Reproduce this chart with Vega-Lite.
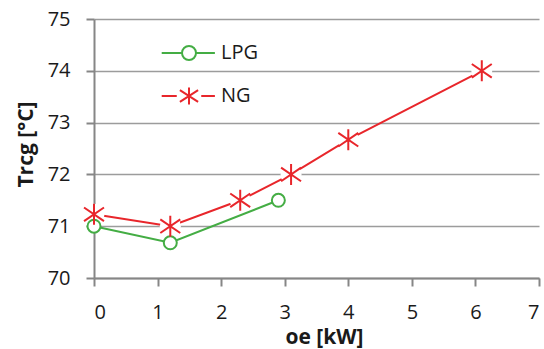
{
  "$schema": "https://vega.github.io/schema/vega-lite/v6.json",
  "width": 445,
  "height": 259,
  "autosize": {"type": "none"},
  "padding": {"left": 94, "top": 19, "right": 5, "bottom": 71},
  "background": "white",
  "config": {
    "font": "Open Sans",
    "view": {"stroke": null},
    "axis": {
      "domainColor": "#868686",
      "domainWidth": 2,
      "tickColor": "#868686",
      "tickWidth": 2,
      "tickSize": 8,
      "labelFont": "Open Sans",
      "labelFontSize": 20,
      "labelColor": "#1a1a1a",
      "titleFont": "Open Sans",
      "titleFontSize": 21,
      "titleFontWeight": "bold",
      "titleColor": "#1a1a1a",
      "gridColor": "#9c9c9c",
      "gridWidth": 1.5
    }
  },
  "data": {
    "values": [
      {"fuel": "LPG", "oe": 0, "trcg": 71.0},
      {"fuel": "LPG", "oe": 1.2, "trcg": 70.68},
      {"fuel": "LPG", "oe": 2.9, "trcg": 71.5},
      {"fuel": "NG", "oe": 0, "trcg": 71.23},
      {"fuel": "NG", "oe": 1.2, "trcg": 71.0},
      {"fuel": "NG", "oe": 2.3, "trcg": 71.5},
      {"fuel": "NG", "oe": 3.1, "trcg": 72.0},
      {"fuel": "NG", "oe": 4.0, "trcg": 72.67},
      {"fuel": "NG", "oe": 6.1, "trcg": 74.0}
    ]
  },
  "encoding": {
    "x": {
      "field": "oe",
      "type": "quantitative",
      "scale": {"domain": [0, 7], "nice": false, "zero": false},
      "axis": {
        "title": "oe [kW]",
        "values": [0, 1, 2, 3, 4, 5, 6, 7],
        "grid": false,
        "labelPadding": 16,
        "titlePadding": 4,
        "titleX": 230
      }
    },
    "y": {
      "field": "trcg",
      "type": "quantitative",
      "scale": {"domain": [70, 75], "nice": false, "zero": false},
      "axis": {
        "title": "Trcg [°C]",
        "values": [70, 71, 72, 73, 74, 75],
        "grid": true,
        "labelPadding": 16,
        "titlePadding": 11,
        "titleY": 125
      }
    }
  },
  "layer": [
    {
      "mark": {"type": "line", "strokeWidth": 2},
      "encoding": {
        "color": {
          "field": "fuel",
          "type": "nominal",
          "scale": {"domain": ["LPG", "NG"], "range": ["#44ad44", "#e8262b"]},
          "legend": {
            "title": null,
            "orient": "none",
            "legendX": 85,
            "legendY": 24,
            "padding": 0,
            "symbolSize": 196,
            "symbolStrokeWidth": 2,
            "symbolFillColor": "white",
            "labelFontSize": 20,
            "labelFont": "Open Sans",
            "labelColor": "#1a1a1a",
            "labelOffset": 22,
            "rowPadding": 19,
            "encode": {
              "symbols": {
                "update": {
                  "shape": {"signal": "datum.value === 'LPG' ? 'M-3.9,0H-1M1,0H3.7M1,0A1,1,0,1,1,-1,0A1,1,0,1,1,1,0' : 'M-3.9,0H-1.75M1.75,0H3.7M0,-1.2V1.2M-1.3,-0.85L1.3,0.85M-1.3,0.85L1.3,-0.85'"},
                  "fill": {"value": "white"},
                  "strokeWidth": {"value": 2}
                }
              }
            }
          }
        }
      }
    },
    {
      "transform": [{"filter": "datum.fuel === 'NG'"}],
      "mark": {"type": "point", "shape": "circle", "filled": true, "color": "white", "opacity": 1, "size": 441},
      "encoding": {}
    },
    {
      "transform": [{"filter": "datum.fuel === 'LPG'"}],
      "mark": {"type": "point", "shape": "circle", "fill": "white", "stroke": "#44ad44", "filled": false, "strokeWidth": 2, "opacity": 1, "size": 169},
      "encoding": {}
    },
    {
      "transform": [{"filter": "datum.fuel === 'NG'"}],
      "mark": {"type": "point", "shape": "M0,-1V1M-0.95,-0.65L0.95,0.65M-0.95,0.65L0.95,-0.65", "stroke": "#e8262b", "filled": false, "strokeWidth": 2, "opacity": 1, "size": 441},
      "encoding": {}
    }
  ]
}
